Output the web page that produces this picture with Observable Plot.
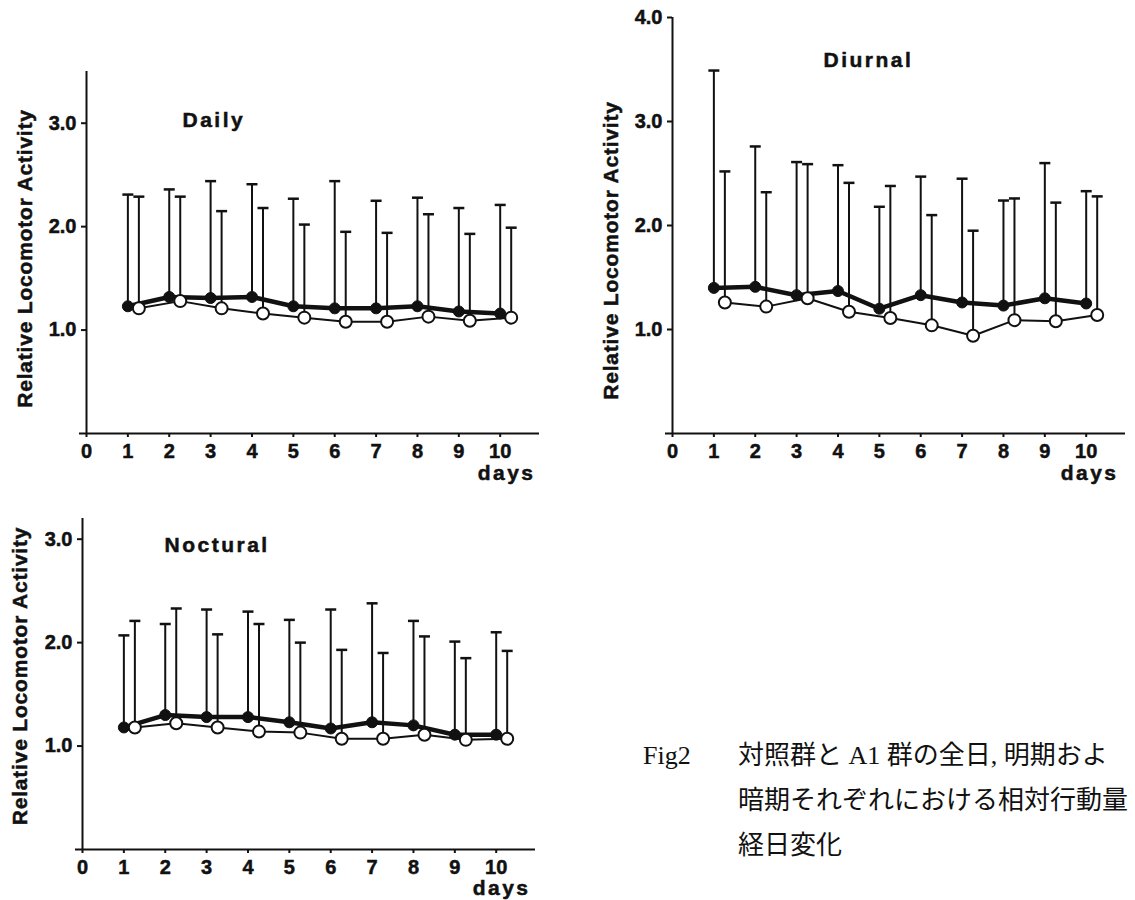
<!DOCTYPE html>
<html><head><meta charset="utf-8">
<script src="https://cdn.jsdelivr.net/npm/d3@7"></script>
<script src="https://cdn.jsdelivr.net/npm/@observablehq/plot@0.6"></script>
<style>
html,body{margin:0;padding:0;background:#fff;}
body{width:1135px;height:900px;position:relative;overflow:hidden;font-family:"Liberation Sans",Arial,sans-serif;}
.panel{position:absolute;}
.cap{position:absolute;font-family:"Liberation Serif","Noto Sans CJK JP",serif;font-size:26px;color:#111;white-space:nowrap;line-height:45px;}
</style></head><body>
<div id="daily" class="panel" style="left:0;top:0;width:560px;height:480px"></div>
<div id="diurnal" class="panel" style="left:590px;top:0;width:545px;height:480px"></div>
<div id="noctural" class="panel" style="left:0;top:470px;width:560px;height:426px"></div>
<div class="cap" style="left:643px;top:733px;font-size:26px">Fig2</div>
<div class="cap" style="left:738px;top:733px;width:397px;overflow:hidden">対照群と A1 群の全日, 明期およ<br>暗期それぞれにおける相対行動量<br>経日変化</div>
<script>
// ---- data ----
const days = [1, 2, 3, 4, 5, 6, 7, 8, 9, 10];
const dayTicks = [0, 1, 2, 3, 4, 5, 6, 7, 8, 9, 10];
const panelTitles = ["Daily", "Diurnal", "Noctural"];
const yAxisLabel = "Relative Locomotor Activity";
const xAxisLabel = "days";

// Daily
const dailyA1Mean = [1.23, 1.32, 1.31, 1.32, 1.23, 1.21, 1.21, 1.23, 1.18, 1.16];
const dailyA1Sd = [1.08, 1.04, 1.13, 1.09, 1.04, 1.23, 1.04, 1.05, 1.00, 1.05];
const dailyCtlMean = [1.21, 1.28, 1.21, 1.16, 1.12, 1.08, 1.08, 1.13, 1.09, 1.12];
const dailyCtlSd = [1.08, 1.01, 0.94, 1.02, 0.90, 0.87, 0.86, 0.99, 0.84, 0.87];

// Diurnal
const diurnalA1Mean = [1.40, 1.41, 1.33, 1.37, 1.20, 1.33, 1.26, 1.23, 1.30, 1.25];
const diurnalA1Sd = [2.09, 1.35, 1.28, 1.21, 0.98, 1.14, 1.19, 1.01, 1.30, 1.08];
const diurnalCtlMean = [1.26, 1.22, 1.30, 1.17, 1.11, 1.04, 0.94, 1.09, 1.08, 1.14];
const diurnalCtlSd = [1.26, 1.10, 1.29, 1.24, 1.27, 1.06, 1.01, 1.17, 1.14, 1.14];

// Noctural
const nocturalA1Mean = [1.18, 1.30, 1.28, 1.28, 1.23, 1.17, 1.23, 1.20, 1.11, 1.11];
const nocturalA1Sd = [0.89, 0.88, 1.04, 1.02, 0.99, 1.15, 1.15, 1.01, 0.90, 0.99];
const nocturalCtlMean = [1.18, 1.22, 1.18, 1.14, 1.13, 1.07, 1.07, 1.11, 1.06, 1.07];
const nocturalCtlSd = [1.03, 1.11, 0.90, 1.04, 0.87, 0.86, 0.83, 0.95, 0.79, 0.85];

// ---- drawing ----
const capSymbol = {
  draw(ctx, size) {
    const r = Math.sqrt(size / Math.PI);
    ctx.moveTo(-r, 0);
    ctx.lineTo(r, 0);
  }
};
const INK = "#111";
const FONT = "'Liberation Sans', Arial, sans-serif";

function rows(mean, sd) {
  return days.map((d, i) => ({day: d, mean: mean[i], top: mean[i] + sd[i]}));
}

function makePanel(cfg) {
  const a1 = rows(cfg.a1Mean, cfg.a1Sd);
  const ctl = rows(cfg.ctlMean, cfg.ctlSd);
  const off = 11; // horizontal offset of the open-circle series, px
  const xMax = 10.95;
  const svg = Plot.plot({
    width: cfg.width, height: cfg.height,
    marginLeft: cfg.ml, marginRight: cfg.mr, marginTop: cfg.mt, marginBottom: cfg.mb,
    style: {fontFamily: FONT, fontSize: "20px", fontWeight: "bold", color: INK, background: "transparent", overflow: "visible", maxWidth: "none"},
    x: {domain: [0, xMax]},
    y: {domain: [0, cfg.yMax]},
    marks: [
      Plot.ruleX([0], {y1: 0, y2: cfg.yMax, stroke: INK, strokeWidth: 2}),
      Plot.ruleY([0], {x1: -0.17, x2: xMax, stroke: INK, strokeWidth: 2}),
      Plot.axisX({ticks: dayTicks, tickSize: 4, tickPadding: 6, tickFormat: d3.format("d"), label: null, strokeWidth: 2, fill: INK, stroke: INK, fontSize: 20}),
      Plot.axisY({ticks: cfg.yTicks, tickSize: 5, tickPadding: 5, tickFormat: d3.format(".1f"), label: null, strokeWidth: 2, fill: INK, stroke: INK, fontSize: 20}),
      Plot.text([cfg.title], {frameAnchor: "top-left", textAnchor: "start", dx: cfg.tdx, dy: cfg.tdy, fontSize: 21, fontWeight: "bold", fill: INK}),
      Plot.text([yAxisLabel], {frameAnchor: "left", textAnchor: "middle", rotate: -90, dx: cfg.ldx, dy: cfg.ldy, fontSize: 21, fontWeight: "bold", fill: INK}),
      Plot.text([xAxisLabel], {frameAnchor: "bottom-right", textAnchor: "end", dx: cfg.ddx, dy: cfg.ddy, fontSize: 21, fontWeight: "bold", fill: INK}),
      // series lines
      Plot.line(ctl, {x: "day", y: "mean", dx: off, stroke: INK, strokeWidth: 2}),
      Plot.line(a1, {x: "day", y: "mean", stroke: INK, strokeWidth: 4.5}),
      // error bars (mean + SD)
      Plot.ruleX(a1, {x: "day", y1: "mean", y2: "top", stroke: INK, strokeWidth: 2}),
      Plot.dot(a1, {x: "day", y: "top", symbol: capSymbol, r: 5.5, stroke: INK, strokeWidth: 2.5, fill: "none"}),
      Plot.ruleX(ctl, {x: "day", y1: "mean", y2: "top", dx: off, stroke: INK, strokeWidth: 2}),
      Plot.dot(ctl, {x: "day", y: "top", dx: off, symbol: capSymbol, r: 5.5, stroke: INK, strokeWidth: 2.5, fill: "none"}),
      // points
      Plot.dot(a1, {x: "day", y: "mean", r: 5.5, fill: INK, stroke: INK, strokeWidth: 1}),
      Plot.dot(ctl, {x: "day", y: "mean", dx: off, r: 6, fill: "white", stroke: INK, strokeWidth: 2})
    ]
  });
  d3.select(svg).selectAll("text").each(function() {
    const t = this.textContent;
    this.style.stroke = INK;
    this.style.strokeWidth = "0.5px";
    if (t === cfg.title || t === xAxisLabel) this.style.letterSpacing = "2.5px";
    else if (t === yAxisLabel) this.style.letterSpacing = "0.8px";
  });
  return svg;
}

document.getElementById("daily").append(makePanel({
  title: panelTitles[0], a1Mean: dailyA1Mean, a1Sd: dailyA1Sd, ctlMean: dailyCtlMean, ctlSd: dailyCtlSd,
  width: 560, height: 480, ml: 86, mr: 21, mt: 71, mb: 47, yMax: 3.5, yTicks: [1, 2, 3],
  tdx: 96, tdy: 41, ldx: -61, ldy: 6, ddx: -4, ddy: 46
}));
document.getElementById("diurnal").append(makePanel({
  title: panelTitles[1], a1Mean: diurnalA1Mean, a1Sd: diurnalA1Sd, ctlMean: diurnalCtlMean, ctlSd: diurnalCtlSd,
  width: 545, height: 480, ml: 82, mr: 10, mt: 17, mb: 47, yMax: 4, yTicks: [1, 2, 3, 4],
  tdx: 151, tdy: 35, ldx: -61, ldy: 25, ddx: -7, ddy: 46
}));
document.getElementById("noctural").append(makePanel({
  title: panelTitles[2], a1Mean: nocturalA1Mean, a1Sd: nocturalA1Sd, ctlMean: nocturalCtlMean, ctlSd: nocturalCtlSd,
  width: 560, height: 426, ml: 82, mr: 25, mt: 48, mb: 47, yMax: 3.2, yTicks: [1, 2, 3],
  tdx: 82, tdy: 19, ldx: -62, ldy: -8, ddx: -5, ddy: 45
}));
</script>
</body></html>
